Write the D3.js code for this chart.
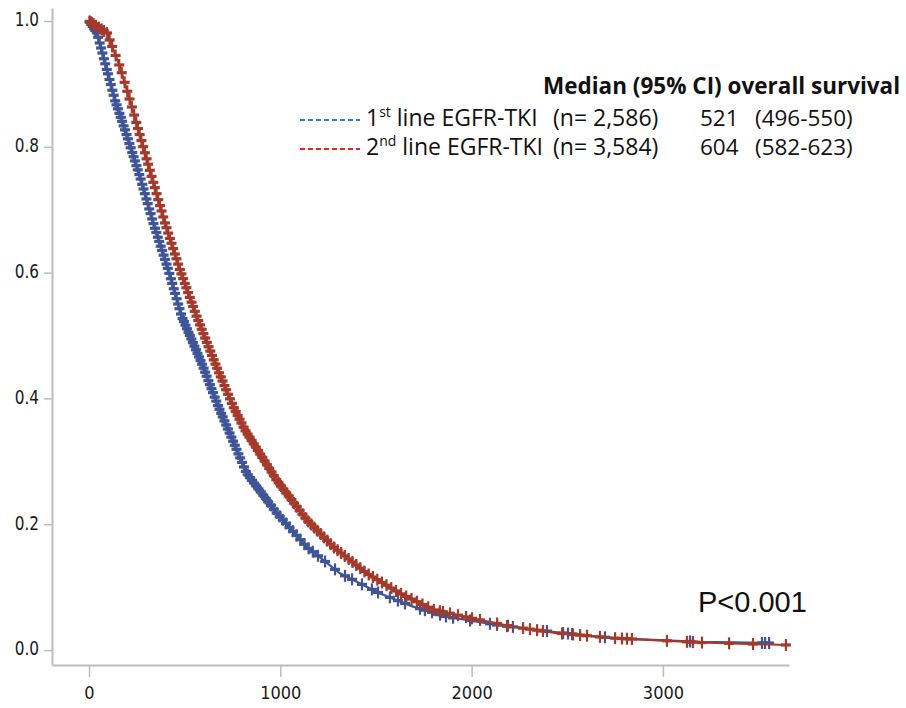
<!DOCTYPE html>
<html>
<head>
<meta charset="utf-8">
<script src="https://cdn.jsdelivr.net/npm/d3@7"></script>
<style>
  html, body { margin: 0; padding: 0; background: #fff; }
  svg { display: block; }
  .tick text { font-family: "Liberation Sans Narrow", "DejaVu Sans Condensed", sans-serif; fill: #1a1a1a; }
</style>
</head>
<body>
<svg id="chart" width="906" height="708"></svg>
<script>
// Kaplan-Meier overall survival, 1st vs 2nd line EGFR-TKI (days on x, survival probability on y)

// 1st line EGFR-TKI: [days, survival]
const firstLineTimes = [0, 42, 136, 188, 267, 336, 415, 485, 589, 676, 728, 824, 981, 1138, 1312, 1521, 1694, 1870, 2131, 2478, 2739, 3194, 3570];
const firstLineSurv  = [1.0, 0.981, 0.874, 0.827, 0.752, 0.679, 0.604, 0.530, 0.456, 0.387, 0.350, 0.281, 0.218, 0.164, 0.122, 0.090, 0.069, 0.053, 0.040, 0.027, 0.019, 0.013, 0.011];

// 2nd line EGFR-TKI: [days, survival]
const secondLineTimes = [0, 94, 162, 214, 258, 328, 397, 476, 563, 659, 754, 815, 981, 1138, 1277, 1452, 1626, 1800, 2009, 2218, 2445, 2741, 3194, 3649];
const secondLineSurv  = [1.0, 0.981, 0.927, 0.874, 0.827, 0.752, 0.679, 0.604, 0.530, 0.456, 0.387, 0.350, 0.270, 0.207, 0.164, 0.122, 0.090, 0.064, 0.050, 0.037, 0.027, 0.019, 0.012, 0.008];

// Censoring times (days)
const firstLineCensor = [4, 12, 19, 27, 33, 41, 48, 56, 63, 70, 78, 85, 93, 99, 107, 114, 122, 129, 137, 144, 151, 159, 166, 173, 181, 188, 196, 203, 211, 218, 226, 233, 240, 248, 255, 263, 270, 278, 285, 292, 300, 307, 315, 322, 330, 337, 345, 352, 360, 367, 375, 382, 390, 397, 405, 412, 420, 428, 435, 443, 450, 458, 466, 473, 481, 489, 496, 504, 512, 520, 527, 535, 543, 551, 559, 567, 575, 583, 591, 599, 607, 615, 624, 632, 640, 648, 657, 665, 674, 682, 691, 699, 708, 717, 726, 735, 744, 753, 762, 771, 781, 790, 800, 810, 820, 830, 841, 852, 863, 874, 886, 898, 911, 924, 937, 951, 966, 981, 997, 1013, 1030, 1048, 1066, 1085, 1105, 1126, 1148, 1170,
  1197, 1234, 1286, 1338, 1375, 1427, 1479, 1511, 1573, 1615, 1652, 1730, 1756, 1793, 1835, 1866, 1903, 1992, 2096, 2133, 2185, 2216, 2394, 2478, 2504, 2525, 2697, 3142, 3518, 3534, 3555];

const secondLineCensor = [3, 9, 16, 24, 37, 52, 66, 78, 94, 108, 121, 139, 158, 171, 186, 200, 212, 224, 236, 247, 256, 265, 274, 283, 292, 301, 309, 318, 327, 336, 344, 353, 362, 371, 379, 388, 397, 405, 414, 423, 431, 440, 449, 457, 466, 475, 483, 492, 501, 509, 518, 527, 536, 544, 553, 562, 571, 580, 589, 598, 607, 616, 625, 634, 643, 652, 661, 670, 680, 689, 698, 708, 717, 727, 737, 747, 757, 767, 777, 787, 797, 808, 818, 829, 839, 850, 861, 872, 883, 895, 906, 918, 930, 942, 954, 966, 979, 991, 1004, 1017, 1031, 1044, 1058, 1072, 1086, 1101, 1116, 1131, 1146, 1162, 1178, 1194, 1211, 1228, 1245, 1263, 1281, 1299, 1318, 1337, 1357, 1377, 1397, 1418, 1440, 1462, 1484, 1507, 1531, 1555, 1580, 1605, 1631, 1658, 1686, 1714, 1743, 1773, 1803, 1834, 1850,
  1887, 1929, 1971, 2002, 2044, 2133, 2190, 2269, 2305, 2342, 2373, 2473, 2530, 2567, 2603, 2671, 2750, 2786, 2812, 2838, 3021, 3126, 3157, 3204, 3346, 3471, 3643];

// Axis ticks
const xTicks = [0, 1000, 2000, 3000];
const yTicks = [0.0, 0.2, 0.4, 0.6, 0.8, 1.0];

// Legend table
const legendHeader = "Median (95% CI) overall survival";
const legendLabels = [["1", "st", " line EGFR-TKI"], ["2", "nd", " line EGFR-TKI"]];
const legendN = ["(n= 2,586)", "(n= 3,584)"];
const legendMedian = [521, 604];
const legendCI = ["(496-550)", "(582-623)"];
const pValueText = "P<0.001";

const curveColors = ["#3f5598", "#a43a2b"];
const legendDashColors = ["#1f7fd6", "#e8202a"];

const svg = d3.select("#chart");

const x = d3.scaleLinear().domain([-193.4, 3659]).range([52, 789]);
const y = d3.scaleLinear().domain([-0.0238, 1.0207]).range([665, 8]);

// Axes
const axisColor = "#b9bdc1";
const yAxis = svg.append("g")
  .attr("transform", "translate(52,0)")
  .call(d3.axisLeft(y).tickValues(yTicks).tickFormat(d3.format(".1f")).tickSize(8).tickSizeOuter(0).tickPadding(5));
const xAxis = svg.append("g")
  .attr("transform", "translate(0,665)")
  .call(d3.axisBottom(x).tickValues(xTicks).tickFormat(d3.format("d")).tickSize(12).tickSizeOuter(0).tickPadding(9));

[yAxis, xAxis].forEach(g => {
  g.select(".domain").attr("stroke", axisColor).attr("stroke-width", 2);
  g.selectAll(".tick line").attr("stroke", axisColor).attr("stroke-width", 1.5);
});
yAxis.selectAll(".tick text").attr("font-size", 17).attr("transform", "scale(1,1.15)").attr("dy", "0.25em");
xAxis.selectAll(".tick text").attr("font-size", 18);

// Survival curves
const series = [
  { times: firstLineTimes, surv: firstLineSurv, censor: firstLineCensor, color: curveColors[0] },
  { times: secondLineTimes, surv: secondLineSurv, censor: secondLineCensor, color: curveColors[1] }
];

const line = d3.line()
  .x(d => x(d[0]))
  .y(d => y(d[1]))
  .curve(d3.curveLinear);

function survivalAt(s, t) {
  const i = d3.bisectRight(s.times, t);
  if (i <= 0) return s.surv[0];
  if (i >= s.times.length) return s.surv[s.surv.length - 1];
  const t0 = s.times[i - 1], t1 = s.times[i];
  const k = (t - t0) / (t1 - t0);
  return s.surv[i - 1] + k * (s.surv[i] - s.surv[i - 1]);
}

series.forEach(s => {
  const g = svg.append("g");
  g.append("path")
    .datum(s.times.map((t, i) => [t, s.surv[i]]))
    .attr("fill", "none")
    .attr("stroke", s.color)
    .attr("stroke-width", 2.2)
    .attr("d", line);

  const marks = g.selectAll("g.censor")
    .data(s.censor)
    .join("g")
    .attr("class", "censor")
    .attr("transform", t => `translate(${x(t)},${y(survivalAt(s, t))})`);
  marks.append("line").attr("x1", -5).attr("x2", 5).attr("y1", 0).attr("y2", 0)
    .attr("stroke", s.color).attr("stroke-width", 3.2);
  marks.append("line").attr("x1", 0).attr("x2", 0).attr("y1", -6).attr("y2", 6)
    .attr("stroke", s.color).attr("stroke-width", 2.2);
});

// Legend
const legendFont = "'Open Sans', 'Noto Sans', sans-serif";
const lg = svg.append("g").attr("font-family", legendFont).attr("fill", "#111");
lg.append("text")
  .attr("x", 543).attr("y", 94)
  .attr("font-size", 22.5).attr("font-weight", "bold")
  .text(legendHeader);

const rowY = [126, 155];
legendLabels.forEach((lab, i) => {
  lg.append("line")
    .attr("x1", 300).attr("x2", 360)
    .attr("y1", rowY[i] - 6).attr("y2", rowY[i] - 6)
    .attr("stroke", legendDashColors[i]).attr("stroke-width", 2)
    .attr("stroke-dasharray", "5,3");
  const t = lg.append("text").attr("x", 366).attr("y", rowY[i]).attr("font-size", 23);
  t.append("tspan").text(lab[0]);
  t.append("tspan").attr("font-size", 14).attr("dy", -9).text(lab[1]);
  t.append("tspan").attr("dy", 9).text(lab[2]);
  lg.append("text").attr("x", 553).attr("y", rowY[i]).attr("font-size", 23).text(legendN[i]);
  lg.append("text").attr("x", 700).attr("y", rowY[i]).attr("font-size", 22.5).text(legendMedian[i]);
  lg.append("text").attr("x", 755).attr("y", rowY[i]).attr("font-size", 22.5).text(legendCI[i]);
});

svg.append("text")
  .attr("x", 698).attr("y", 612)
  .attr("font-family", "'Liberation Sans', Arial, sans-serif")
  .attr("font-size", 29)
  .attr("fill", "#111")
  .text(pValueText);
</script>
</body>
</html>
